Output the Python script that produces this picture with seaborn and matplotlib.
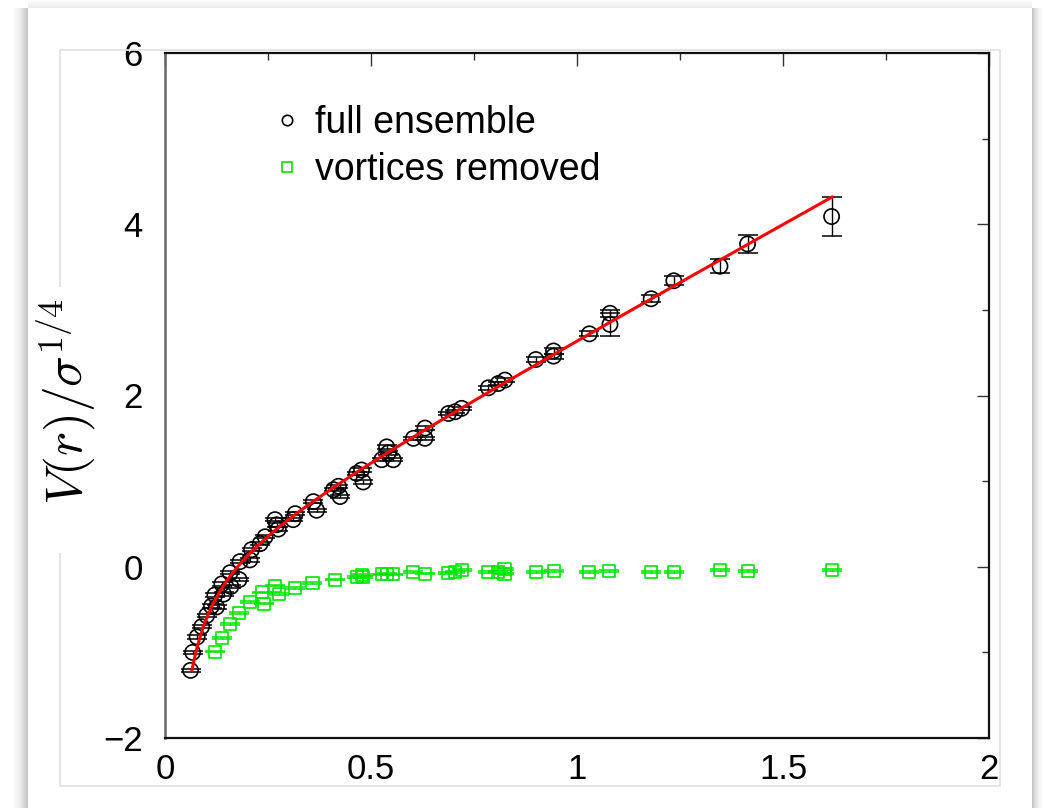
import numpy as np
import matplotlib
matplotlib.use("Agg")
import matplotlib.pyplot as plt
from matplotlib.patches import Rectangle
from matplotlib.lines import Line2D
from matplotlib.ticker import MultipleLocator
import seaborn as sns

# ---- static quark potential, full ensemble ----
r_full = [0.062, 0.067, 0.078, 0.089, 0.101, 0.113, 0.121, 0.125, 0.138, 0.142,
          0.158, 0.160, 0.180, 0.182, 0.206, 0.210, 0.231, 0.243, 0.267, 0.271,
          0.275, 0.311, 0.316, 0.360, 0.368, 0.409, 0.421, 0.425, 0.465, 0.477,
          0.481, 0.526, 0.538, 0.542, 0.554, 0.603, 0.631, 0.631, 0.688, 0.704,
          0.720, 0.785, 0.809, 0.825, 0.900, 0.943, 0.943, 1.030, 1.080, 1.080,
          1.180, 1.235, 1.347, 1.414, 1.618]
v_full = [-1.21, -1.00, -0.82, -0.70, -0.57, -0.46, -0.33, -0.47, -0.20, -0.32,
          -0.07, -0.23, -0.15, 0.06, 0.08, 0.20, 0.27, 0.35, 0.55, 0.49,
          0.44, 0.55, 0.62, 0.76, 0.66, 0.90, 0.94, 0.82, 1.09, 1.13,
          0.99, 1.25, 1.40, 1.33, 1.25, 1.50, 1.62, 1.50, 1.79, 1.81,
          1.85, 2.09, 2.14, 2.18, 2.42, 2.52, 2.46, 2.72, 2.96, 2.83,
          3.13, 3.34, 3.51, 3.77, 4.09]
err_full = [0.02] * 44 + [0.03, 0.03, 0.03, 0.03, 0.04, 0.13,
                          0.04, 0.05, 0.08, 0.11, 0.23]

# ---- vortices removed ----
r_vort = [0.121, 0.138, 0.158, 0.180, 0.206, 0.235, 0.240, 0.267, 0.277, 0.316,
          0.358, 0.413, 0.465, 0.477, 0.481, 0.526, 0.538, 0.554, 0.603, 0.631,
          0.688, 0.704, 0.720, 0.785, 0.809, 0.824, 0.824, 0.900, 0.943, 1.030,
          1.078, 1.179, 1.235, 1.347, 1.414, 1.618]
v_vort = [-0.99, -0.83, -0.67, -0.54, -0.41, -0.30, -0.43, -0.22, -0.32, -0.25,
          -0.19, -0.15, -0.12, -0.10, -0.12, -0.09, -0.08, -0.09, -0.06, -0.08,
          -0.07, -0.06, -0.04, -0.06, -0.06, -0.03, -0.08, -0.06, -0.05, -0.06,
          -0.05, -0.06, -0.06, -0.04, -0.05, -0.04]
err_vort = [0.01] * len(r_vort)

# ---- Cornell fit  V(r) = v0 + sigma*r - alpha/r ----
fit_v0 = 0.07
fit_sigma = 2.66
fit_alpha = 0.095
fit_range = (0.065, 1.62)

x_ticks = [0, 0.5, 1, 1.5, 2]
y_ticks = [-2, 0, 2, 4, 6]
legend_labels = ["full ensemble", "vortices removed"]
y_title = r"$V(r)/\sigma^{1/4}$"

GREEN = "#00e600"

W, H = 1042, 808
sns.set_theme(style="white")
plt.rcParams["font.family"] = ["Liberation Sans", "DejaVu Sans"]
plt.rcParams["mathtext.fontset"] = "cm"
plt.rcParams["text.color"] = "black"
plt.rcParams["xtick.labelcolor"] = "black"
plt.rcParams["ytick.labelcolor"] = "black"

fig = plt.figure(figsize=(W / 100, H / 100), dpi=100)
fig.patch.set_facecolor("white")


def px_rect(x0, y0, x1, y1, **kw):
    """Rectangle given in figure pixels, origin at the top-left corner."""
    fig.add_artist(Rectangle((x0 / W, 1 - y1 / H), (x1 - x0) / W, (y1 - y0) / H,
                             transform=fig.transFigure, **kw))


# card shadow around the slide picture
for i in range(14):
    t = i / 13
    g = 0.97 - 0.2 * t ** 1.6
    px_rect(14 + i, 8, 15 + i, H, facecolor=(g, g, g), edgecolor="none", zorder=0.2)
for i in range(10):
    t = 1 - i / 9
    g = 0.97 - 0.2 * t ** 1.6
    px_rect(1032 + i, 8, 1033 + i, H, facecolor=(g, g, g), edgecolor="none", zorder=0.2)
for i in range(8):
    t = i / 7
    g = 0.985 - 0.06 * t
    px_rect(28, i, 1032, i + 1, facecolor=(g, g, g), edgecolor="none", zorder=0.2)

# thin frame of the embedded plot
px_rect(60, 50, 1000, 786, fill=False, edgecolor="#e2e2e2", lw=1.3, zorder=0.3)
# white patch behind the vertical axis title
px_rect(30, 287, 97, 553, facecolor="white", edgecolor="none", zorder=0.4)
fig.text(66 / W, 1 - 402 / H, y_title, rotation=90, fontsize=37,
         ha="center", va="center", color="black")

ax = fig.add_axes([165 / W, 1 - 738 / H, (989 - 165) / W, (738 - 53) / H])
ax.set_facecolor("white")

# error bars (caps drawn as short horizontal strokes)
ax.errorbar(r_full, v_full, yerr=err_full, fmt="none", ecolor="black",
            elinewidth=1.0, capsize=7, capthick=1.1, zorder=2)
ax.errorbar(r_vort, v_vort, yerr=err_vort, fmt="none", ecolor=GREEN,
            elinewidth=1.0, capsize=7, capthick=1.1, zorder=2)

sns.scatterplot(x=r_full, y=v_full, marker="o", s=120, color="black",
                facecolor="none", edgecolor="black", linewidth=1.2, ax=ax, zorder=3)
sns.scatterplot(x=r_vort, y=v_vort, marker="s", s=75, color=GREEN,
                facecolor="none", edgecolor=GREEN, linewidth=1.2, ax=ax, zorder=3)

r_fit = np.linspace(fit_range[0], fit_range[1], 400)
v_fit = fit_v0 + fit_sigma * r_fit - fit_alpha / r_fit
sns.lineplot(x=r_fit, y=v_fit, color="#ff0000", linewidth=2.2, ax=ax,
             zorder=4, sort=False)

ax.set_xlim(x_ticks[0], x_ticks[-1])
ax.set_ylim(y_ticks[0], y_ticks[-1])
ax.set_xticks(x_ticks)
ax.set_xticklabels([f"{t:g}" for t in x_ticks])
ax.set_yticks(y_ticks)
ax.set_yticklabels([f"{t:g}".replace("-", "\u2212") for t in y_ticks])
ax.xaxis.set_minor_locator(MultipleLocator(0.25))
ax.yaxis.set_minor_locator(MultipleLocator(1))
ax.tick_params(which="both", direction="in", top=True, right=True,
               color="#333333", width=1.0)
ax.tick_params(which="major", length=9)
ax.tick_params(which="minor", length=5)
ax.tick_params(axis="x", which="major", labelsize=25, pad=11, labelcolor="black")
ax.tick_params(axis="y", which="major", labelsize=25, pad=16, labelcolor="black")
for side in ["top", "right", "bottom"]:
    ax.spines[side].set_color("#111111")
    ax.spines[side].set_linewidth(1.6)
ax.spines["left"].set_color("#666666")
ax.spines["left"].set_linewidth(1.8)
ax.set_xlabel("")
ax.set_ylabel("")

handles = [
    Line2D([], [], ls="", marker="o", ms=7.5, mfc="none", mec="black", mew=1.2),
    Line2D([], [], ls="", marker="s", ms=6.5, mfc="none", mec=GREEN, mew=1.2),
]
leg = ax.legend(handles, legend_labels, loc="upper left",
                bbox_to_anchor=(0.137, 0.924), frameon=False, fontsize=27,
                handlelength=0.5, handletextpad=0.5, labelspacing=0.29,
                borderaxespad=0, borderpad=0)
for txt in leg.get_texts():
    txt.set_color("black")

fig.savefig("out.png", dpi=100, facecolor="white")
